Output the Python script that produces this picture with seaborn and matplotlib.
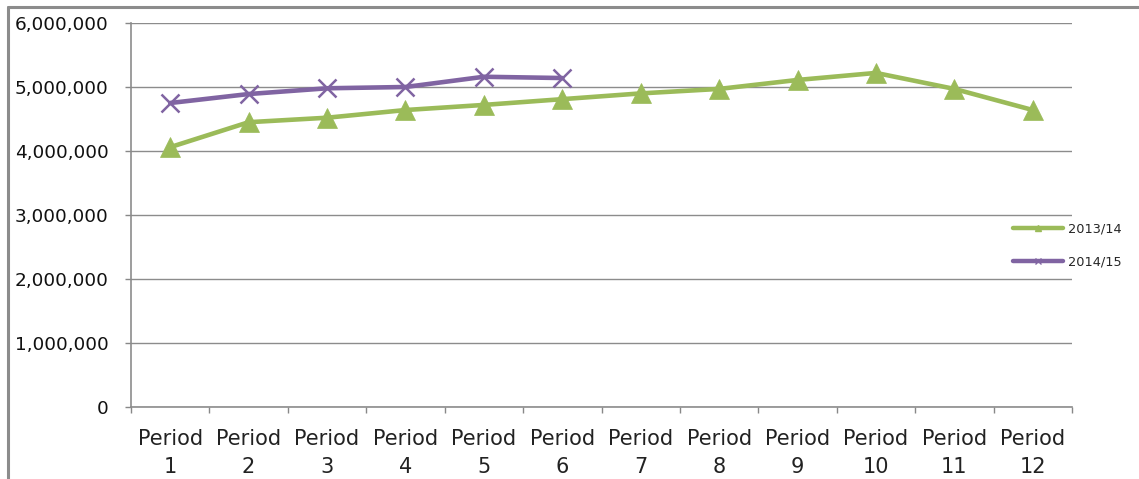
import numpy as np
import pandas as pd
import matplotlib
matplotlib.use("Agg")
import matplotlib.pyplot as plt
from matplotlib.lines import Line2D
import seaborn as sns

periods = [f"Period\n{i}" for i in range(1, 13)]
series_2013 = [4060000, 4450000, 4520000, 4640000, 4720000, 4810000,
               4900000, 4970000, 5110000, 5220000, 4970000, 4640000]
series_2014 = [4750000, 4890000, 4980000, 5000000, 5160000, 5140000]
labels = ["2013/14", "2014/15"]
colors = {"2013/14": "#9BBB59", "2014/15": "#8064A2"}

df13 = pd.DataFrame({"pos": np.arange(len(series_2013)), "value": series_2013})
df14 = pd.DataFrame({"pos": np.arange(len(series_2014)), "value": series_2014})

sns.set_theme(style="white")
plt.rcParams['font.family'] = ['DejaVu Sans']

fig = plt.figure(figsize=(11.39, 4.79), dpi=100)
ax = fig.add_axes([131/1139, 1-407/479, (1072-131)/1139, (407-23)/479])

sns.lineplot(data=df13, x="pos", y="value", color=colors["2013/14"], marker="^",
             linewidth=3.3, markersize=15, markeredgecolor=colors["2013/14"],
             markeredgewidth=0.5, ax=ax)
sns.lineplot(data=df14, x="pos", y="value", color=colors["2014/15"], marker="x",
             linewidth=3.3, markersize=13, markeredgewidth=1.8,
             markeredgecolor=colors["2014/15"], ax=ax)

ax.set_xlim(-0.5, 11.5)
ax.set_ylim(0, 6000000)
ax.set_yticks(np.arange(0, 6000001, 1000000))
ax.set_yticklabels([f"{int(v):,}" for v in np.arange(0, 6000001, 1000000)],
                   fontsize=13.3, color="#111111")
ax.set_xticks(np.arange(12))
ax.set_xticklabels(periods, fontsize=15, linespacing=1.47, color="#222222")
ax.set_xticks(np.arange(-0.5, 12, 1), minor=True)
ax.tick_params(axis="x", which="major", length=0, pad=16)
ax.tick_params(axis="x", which="minor", length=4.5, width=1, color="#888888", direction="out", bottom=True)
ax.tick_params(axis="y", length=4, width=1, color="#888888", direction="out", pad=12, left=True)
ax.set_xlabel("")
ax.set_ylabel("")
ax.yaxis.grid(True, color="#8c8c8c", linewidth=1)
ax.xaxis.grid(False)
for s in ["top", "right"]:
    ax.spines[s].set_visible(False)
for s in ["left", "bottom"]:
    ax.spines[s].set_color("#8c8c8c")
    ax.spines[s].set_linewidth(1.2)

handles = [Line2D([], [], color=colors[l], linewidth=3.2,
                  marker=("^" if l == "2013/14" else "x"), markersize=5, markeredgewidth=1)
           for l in labels]
fig.legend(handles, labels, loc="center left", bbox_to_anchor=(1013/1139, 1-245.5/479),
           frameon=False, fontsize=9.3, handlelength=3.9, handletextpad=0.35,
           labelspacing=1.6, borderpad=0, borderaxespad=0)

# outer chart border (top and left)
fig.add_artist(Line2D([8/1139, 8/1139], [0, 1-7/479], transform=fig.transFigure,
                      color="#8c8c8c", linewidth=2.2))
fig.add_artist(Line2D([8/1139, 1], [1-7/479, 1-7/479], transform=fig.transFigure,
                      color="#8c8c8c", linewidth=2.2))

fig.savefig("out.png", dpi=100)
